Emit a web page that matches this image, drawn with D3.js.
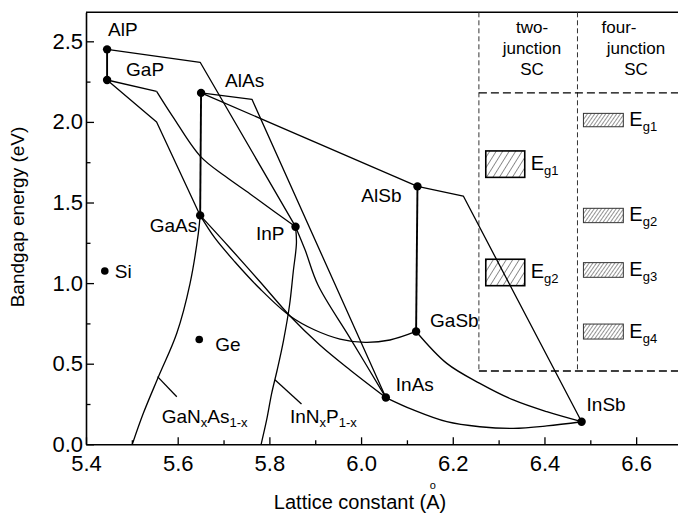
<!DOCTYPE html>
<html>
<head>
<meta charset="utf-8">
<script src="https://cdn.jsdelivr.net/npm/d3@7"></script>
<style>
body { margin: 0; background: #fff; }
text { font-family: "Liberation Sans", Arial, sans-serif; fill: #000; }
</style>
</head>
<body>
<div id="chart"></div>
<script>
// binary compounds: lattice constant (A) and bandgap (eV)
var compounds = [
  { name: "AlP",  a: 5.446, eg: 2.45 },
  { name: "GaP",  a: 5.446, eg: 2.26 },
  { name: "AlAs", a: 5.651, eg: 2.18 },
  { name: "GaAs", a: 5.649, eg: 1.42 },
  { name: "InP",  a: 5.857, eg: 1.35 },
  { name: "AlSb", a: 6.123, eg: 1.60 },
  { name: "GaSb", a: 6.120, eg: 0.70 },
  { name: "InAs", a: 6.054, eg: 0.29 },
  { name: "InSb", a: 6.481, eg: 0.14 }
];

var elements = [
  { name: "Si", a: 5.441, eg: 1.075 },
  { name: "Ge", a: 5.647, eg: 0.65 }
];

// alloy lines, "line" = straight pieces, "curve" = smooth bowing
var alloys = [
  { name: "AlGaP",  type: "line", thick: true, pts: [[5.446, 2.45], [5.446, 2.26]] },
  { name: "AlGaAs", type: "line", thick: true, pts: [[5.651, 2.18], [5.649, 1.42]] },
  { name: "AlGaSb", type: "line", thick: true, pts: [[6.123, 1.60], [6.120, 0.70]] },
  { name: "AlInP",  type: "line", pts: [[5.446, 2.45], [5.649, 2.37], [5.857, 1.35]] },
  { name: "AlInAs", type: "line", pts: [[5.651, 2.18], [5.762, 2.14], [6.054, 0.29]] },
  { name: "AlAsSb", type: "line", pts: [[5.651, 2.18], [6.123, 1.60]] },
  { name: "AlInSb", type: "line", pts: [[6.123, 1.60], [6.223, 1.54], [6.481, 0.14]] },
  { name: "GaAsP",  type: "line", pts: [[5.446, 2.26], [5.554, 2.00], [5.649, 1.42]] },
  { name: "GaInP1", type: "line", pts: [[5.446, 2.26], [5.554, 2.19]] },
  { name: "GaInP2", type: "curve", pts: [[5.554, 2.19], [5.590, 2.03], [5.649, 1.788], [5.703, 1.664], [5.758, 1.553], [5.812, 1.441], [5.857, 1.35]] },
  { name: "GaAsSb", type: "curve", pts: [[5.649, 1.42], [5.681, 1.28], [5.725, 1.131], [5.780, 0.963], [5.845, 0.796], [5.899, 0.709], [5.954, 0.653], [6.009, 0.632], [6.063, 0.647], [6.120, 0.70]] },
  { name: "GaInAs", type: "curve", pts: [[5.649, 1.42], [5.714, 1.218], [5.780, 1.007], [5.845, 0.796], [5.910, 0.616], [5.976, 0.461], [6.054, 0.29]] },
  { name: "InAsP",  type: "curve", pts: [[5.857, 1.35], [5.878, 1.205], [5.906, 0.988], [5.976, 0.659], [6.054, 0.29]] },
  { name: "GaInSb", type: "curve", pts: [[6.120, 0.70], [6.187, 0.502], [6.259, 0.378], [6.332, 0.275], [6.405, 0.202], [6.481, 0.14]] },
  { name: "InAsSb", type: "curve", pts: [[6.054, 0.29], [6.114, 0.213], [6.187, 0.140], [6.259, 0.109], [6.332, 0.099], [6.405, 0.114], [6.481, 0.14]] },
  { name: "GaNAs",  type: "curve", pts: [[5.649, 1.42], [5.645, 1.309], [5.627, 0.999], [5.598, 0.689], [5.558, 0.419], [5.525, 0.192], [5.501, 0]] },
  { name: "InNP",   type: "curve", pts: [[5.857, 1.35], [5.859, 1.249], [5.852, 1.069], [5.844, 0.864], [5.831, 0.647], [5.817, 0.461], [5.805, 0.316], [5.794, 0.151], [5.782, 0]] }
];

// ideal bandgap windows for tandem cells
var twoJunction = [
  { name: "g1", lo: 1.656, hi: 1.82 },
  { name: "g2", lo: 0.984, hi: 1.148 }
];
var fourJunction = [
  { name: "g1", lo: 1.97, hi: 2.053 },
  { name: "g2", lo: 1.375, hi: 1.464 },
  { name: "g3", lo: 1.036, hi: 1.127 },
  { name: "g4", lo: 0.653, hi: 0.746 }
];

var xTicks = [5.4, 5.6, 5.8, 6.0, 6.2, 6.4, 6.6];
var xMinor = [5.5, 5.7, 5.9, 6.1, 6.3, 6.5];
var yTicks = [0, 0.5, 1.0, 1.5, 2.0, 2.5];
var yMinor = [0.25, 0.75, 1.25, 1.75, 2.25];

// label placement (px offsets from the point)
var labelOffset = {
  AlP: [1, -13, "start"], GaP: [19, -4, "start"], AlAs: [24, -6, "start"],
  GaAs: [-3, 17, "end"], InP: [-11, 13, "end"], AlSb: [-16, 16, "end"],
  GaSb: [14, -4, "start"], InAs: [10, -7, "start"], InSb: [5, -11, "start"],
  Si: [10, 7, "start"], Ge: [16, 11, "start"]
};

var width = 678,
    height = 513;

var x = d3.scaleLinear().domain([5.4, 6.7]).range([86, 682]);
var y = d3.scaleLinear().domain([0, 2.68]).range([444.3, 12.3]);

var svg = d3.select("#chart")
    .append("svg")
    .attr("width", width)
    .attr("height", height)
    .style("display", "block");

// hatch patterns
var defs = svg.append("defs");
defs.append("pattern")
    .attr("id", "hatchWide")
    .attr("patternUnits", "userSpaceOnUse")
    .attr("width", 5.5).attr("height", 10)
    .attr("patternTransform", "rotate(32)")
  .append("line")
    .attr("x1", 0).attr("y1", 0).attr("x2", 0).attr("y2", 10)
    .attr("stroke", "#000").attr("stroke-width", 0.9);
defs.append("pattern")
    .attr("id", "hatchFine")
    .attr("patternUnits", "userSpaceOnUse")
    .attr("width", 3).attr("height", 10)
    .attr("patternTransform", "rotate(35)")
  .append("line")
    .attr("x1", 0).attr("y1", 0).attr("x2", 0).attr("y2", 10)
    .attr("stroke", "#111").attr("stroke-width", 0.9);

// axes
var gx = svg.append("g")
    .attr("transform", "translate(0," + y(0) + ")")
    .call(d3.axisBottom(x).tickValues(xTicks).tickFormat(d3.format(".1f"))
        .tickSizeInner(-7).tickSizeOuter(0).tickPadding(11));
svg.append("g")
    .attr("transform", "translate(0," + y(0) + ")")
    .call(d3.axisBottom(x).tickValues(xMinor).tickFormat("")
        .tickSizeInner(-4).tickSizeOuter(0))
    .select(".domain").remove();

var gy = svg.append("g")
    .attr("transform", "translate(" + x(5.4) + ",0)")
    .call(d3.axisLeft(y).tickValues(yTicks).tickFormat(d3.format(".1f"))
        .tickSizeInner(-8).tickSizeOuter(0).tickPadding(3));
svg.append("g")
    .attr("transform", "translate(" + x(5.4) + ",0)")
    .call(d3.axisLeft(y).tickValues(yMinor).tickFormat("")
        .tickSizeInner(-4.5).tickSizeOuter(0))
    .select(".domain").remove();

svg.selectAll(".domain").attr("stroke-width", 1.6);
svg.selectAll(".tick line").attr("stroke-width", 1.3);
gx.selectAll("text").style("font-size", "22px");
gy.selectAll("text").style("font-size", "22px");
svg.selectAll("g").attr("font-family", null);

// top frame
svg.append("line")
    .attr("x1", x(5.4)).attr("x2", x(6.7))
    .attr("y1", y(2.68)).attr("y2", y(2.68))
    .attr("stroke", "#000").attr("stroke-width", 1.6);

// axis titles
svg.append("text")
    .attr("transform", "translate(24,217) rotate(-90)")
    .attr("text-anchor", "middle")
    .style("font-size", "19px")
    .text("Bandgap energy (eV)");

var xTitle = svg.append("text")
    .attr("x", 360).attr("y", 509)
    .attr("text-anchor", "middle")
    .style("font-size", "20px")
    .text("Lattice constant (A)");
// small ring drawn over the A, as in the source figure
var aBox = xTitle.node().getExtentOfChar(18);
svg.append("text")
    .attr("x", aBox.x + aBox.width / 2).attr("y", aBox.y - 2)
    .attr("text-anchor", "middle")
    .style("font-size", "11px")
    .text("o");

// tandem-cell panel (dashed)
var colSplit = [6.257, 6.472],
    panelTop = 2.18,
    panelBottom = 0.455;
svg.selectAll("line.vdiv")
    .data(colSplit)
    .enter().append("line")
    .attr("class", "vdiv")
    .attr("x1", function (d) { return x(d); })
    .attr("x2", function (d) { return x(d); })
    .attr("y1", y(2.68)).attr("y2", y(panelBottom))
    .attr("stroke", "#333").attr("stroke-width", 1)
    .attr("stroke-dasharray", "5,3");
svg.selectAll("line.hdiv")
    .data([panelTop, panelBottom])
    .enter().append("line")
    .attr("class", "hdiv")
    .attr("x1", x(colSplit[0])).attr("x2", x(6.7))
    .attr("y1", function (d) { return y(d); })
    .attr("y2", function (d) { return y(d); })
    .attr("stroke", "#000").attr("stroke-width", 1.4)
    .attr("stroke-dasharray", "8,4");

var headers = [
  { lines: ["two-", "junction", "SC"], cx: [532, 532, 532] },
  { lines: ["four-", "junction", "SC"], cx: [619, 636, 636] }
];
headers.forEach(function (h) {
  h.lines.forEach(function (s, i) {
    svg.append("text")
        .attr("x", h.cx[i]).attr("y", 33 + i * 21)
        .attr("text-anchor", "middle")
        .style("font-size", "17px")
        .text(s);
  });
});

function drawBands(data, x0, x1, fill, sw, stroke) {
  var g = svg.append("g");
  g.selectAll("rect")
      .data(data)
      .enter().append("rect")
      .attr("x", x(x0))
      .attr("width", x(x1) - x(x0))
      .attr("y", function (d) { return y(d.hi); })
      .attr("height", function (d) { return y(d.lo) - y(d.hi); })
      .attr("fill", "url(#" + fill + ")")
      .attr("stroke", stroke)
      .attr("stroke-width", sw);
  var t = g.selectAll("text")
      .data(data)
      .enter().append("text")
      .attr("x", x(x1) + 6)
      .attr("y", function (d) { return (y(d.hi) + y(d.lo)) / 2 + 6; })
      .style("font-size", "20px");
  t.append("tspan").text("E");
  t.append("tspan").attr("dy", 5).style("font-size", "13px")
      .text(function (d) { return d.name; });
}
drawBands(twoJunction, 6.272, 6.357, "hatchWide", 1.6, "#000");
drawBands(fourJunction, 6.485, 6.572, "hatchFine", 1, "#333");

// alloy lines
var lineGen = d3.line()
    .x(function (d) { return x(d[0]); })
    .y(function (d) { return y(d[1]); });
var curveGen = d3.line()
    .x(function (d) { return x(d[0]); })
    .y(function (d) { return y(d[1]); })
    .curve(d3.curveCatmullRom.alpha(0.5));

svg.append("g")
    .selectAll("path")
    .data(alloys)
    .enter().append("path")
    .attr("d", function (d) { return d.type == "curve" ? curveGen(d.pts) : lineGen(d.pts); })
    .attr("fill", "none")
    .attr("stroke", "#000")
    .attr("stroke-width", function (d) { return d.thick ? 1.9 : 1.3; })
    .attr("stroke-linejoin", "round");

// pointer ticks for the dilute nitride labels
var pointers = [
  { from: [5.556, 0.42], to: [5.598, 0.295] },
  { from: [5.812, 0.40], to: [5.870, 0.25] }
];
svg.selectAll("line.ptr")
    .data(pointers)
    .enter().append("line")
    .attr("class", "ptr")
    .attr("x1", function (d) { return x(d.from[0]); })
    .attr("y1", function (d) { return y(d.from[1]); })
    .attr("x2", function (d) { return x(d.to[0]); })
    .attr("y2", function (d) { return y(d.to[1]); })
    .attr("stroke", "#000").attr("stroke-width", 1.3);

var nitrides = [
  { parts: ["GaN", "x", "As", "1-x"], a: 5.565, eg: 0.13 },
  { parts: ["InN", "x", "P", "1-x"], a: 5.845, eg: 0.13 }
];
nitrides.forEach(function (n) {
  var t = svg.append("text")
      .attr("x", x(n.a)).attr("y", y(n.eg))
      .style("font-size", "19px");
  t.append("tspan").text(n.parts[0]);
  t.append("tspan").attr("dy", 4).style("font-size", "13px").text(n.parts[1]);
  t.append("tspan").attr("dy", -4).text(n.parts[2]);
  t.append("tspan").attr("dy", 4).style("font-size", "13px").text(n.parts[3]);
});

// points
svg.append("g")
    .selectAll("circle")
    .data(compounds)
    .enter().append("circle")
    .attr("cx", function (d) { return x(d.a); })
    .attr("cy", function (d) { return y(d.eg); })
    .attr("r", 4.2)
    .attr("fill", "#000");
svg.append("g")
    .selectAll("circle")
    .data(elements)
    .enter().append("circle")
    .attr("cx", function (d) { return x(d.a); })
    .attr("cy", function (d) { return y(d.eg); })
    .attr("r", 3.8)
    .attr("fill", "#000");

svg.append("g")
    .selectAll("text")
    .data(compounds.concat(elements))
    .enter().append("text")
    .attr("x", function (d) { return x(d.a) + labelOffset[d.name][0]; })
    .attr("y", function (d) { return y(d.eg) + labelOffset[d.name][1]; })
    .attr("text-anchor", function (d) { return labelOffset[d.name][2]; })
    .style("font-size", "19px")
    .text(function (d) { return d.name; });
</script>
</body>
</html>
